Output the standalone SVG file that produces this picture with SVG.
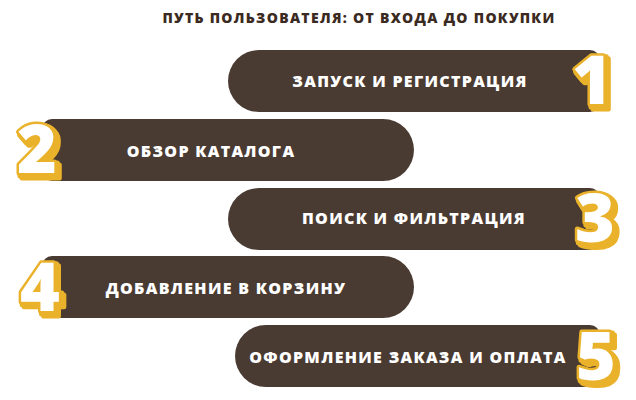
<svg xmlns="http://www.w3.org/2000/svg" width="636" height="400" viewBox="0 0 636 400">
<defs>
<filter id="ext" x="-30%" y="-30%" width="170%" height="170%">
<feMorphology in="SourceAlpha" operator="dilate" radius="1" result="d"/>
<feOffset in="d" dx="2" dy="2" result="o1"/>
<feOffset in="d" dx="4" dy="4" result="o2"/>
<feMerge result="m"><feMergeNode in="o1"/><feMergeNode in="o2"/></feMerge>
<feFlood flood-color="#e9b22b"/>
<feComposite in2="m" operator="in" result="sh"/>
<feMerge><feMergeNode in="sh"/><feMergeNode in="SourceGraphic"/></feMerge>
</filter>
</defs>
<style>
.pill{fill:#4a3b32}
.lbl{font-family:"Open Sans","Liberation Sans",sans-serif;font-weight:800;font-size:16px;fill:#ffffff;letter-spacing:1.3px;text-anchor:middle}
.title{font-family:"Open Sans","Liberation Sans",sans-serif;font-weight:800;font-size:14px;fill:#3a2a21;letter-spacing:1.3px;text-anchor:middle}
.num{font-family:"Open Sans","Liberation Sans",sans-serif;font-weight:800;font-size:68px;fill:#ffffff;stroke:#e9b22b;stroke-width:5;stroke-linejoin:round;text-anchor:middle;paint-order:stroke;filter:url(#ext)}
</style>
<text class="title" x="359" y="23">ПУТЬ ПОЛЬЗОВАТЕЛЯ: ОТ ВХОДА ДО ПОКУПКИ</text>
<g id="step1">
<path class="pill" d="M259,50 H590 a10,10 0 0 1 10,10 V102 a10,10 0 0 1 -10,10 H259 a31,31 0 0 1 0,-62 Z"/>
<text class="lbl" x="410" y="87">ЗАПУСК И РЕГИСТРАЦИЯ</text>
<text class="num" x="592" y="104">1</text>
</g>
<g id="step2">
<path class="pill" d="M383,119 H52 a10,10 0 0 0 -10,10 V171 a10,10 0 0 0 10,10 H383 a31,31 0 0 0 0,-62 Z"/>
<text class="lbl" x="211" y="157">ОБЗОР КАТАЛОГА</text>
<text class="num" x="37" y="173">2</text>
</g>
<g id="step3">
<path class="pill" d="M259,188 H590 a10,10 0 0 1 10,10 V240 a10,10 0 0 1 -10,10 H259 a31,31 0 0 1 0,-62 Z"/>
<text class="lbl" x="414" y="224">ПОИСК И ФИЛЬТРАЦИЯ</text>
<text class="num" x="595" y="242">3</text>
</g>
<g id="step4">
<path class="pill" d="M383,256 H52 a10,10 0 0 0 -10,10 V308 a10,10 0 0 0 10,10 H383 a31,31 0 0 0 0,-62 Z"/>
<text class="lbl" x="226" y="294">ДОБАВЛЕНИЕ В КОРЗИНУ</text>
<text class="num" x="40" y="311">4</text>
</g>
<g id="step5">
<path class="pill" d="M266,325 H590 a10,10 0 0 1 10,10 V377 a10,10 0 0 1 -10,10 H266 a31,31 0 0 1 0,-62 Z"/>
<text class="lbl" x="408" y="363">ОФОРМЛЕНИЕ ЗАКАЗА И ОПЛАТА</text>
<text class="num" x="596" y="380">5</text>
</g>
<g id="connectors"></g>
</svg>
